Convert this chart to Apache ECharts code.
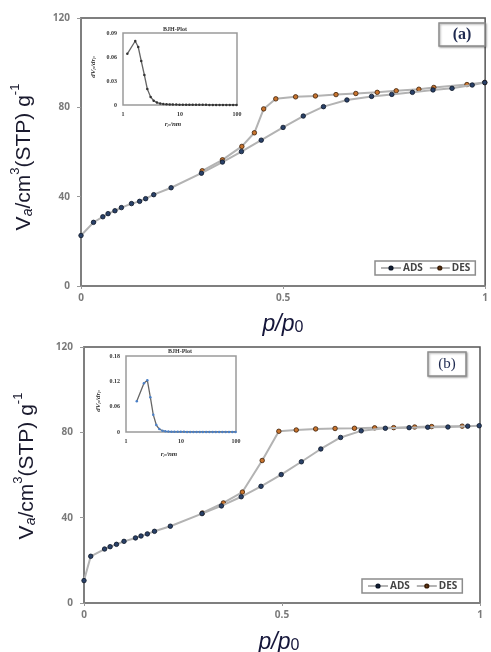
<!DOCTYPE html>
<html><head><meta charset="utf-8">
<script src="https://cdn.jsdelivr.net/npm/echarts@6/dist/echarts.min.js"></script>
<style>html,body{margin:0;padding:0;background:#fff}#c{width:491px;height:652px}</style>
</head><body><div id="c"></div>
<script>
// ---------- data ----------
const mainXTicks = [0, 0.5, 1];
const mainYTicks = [0, 40, 80, 120];

// Panel (a) isotherm
const adsA_p = [0.0, 0.031, 0.054, 0.067, 0.084, 0.10, 0.125, 0.145, 0.16, 0.18, 0.223, 0.298, 0.35, 0.397, 0.446, 0.50, 0.55, 0.60, 0.658, 0.719, 0.769, 0.82, 0.871, 0.918, 0.968, 0.999];
const adsA_v = [22.6, 28.5, 31.0, 32.4, 33.7, 35.1, 36.9, 37.9, 39.1, 40.9, 44.0, 50.5, 55.5, 60.2, 65.3, 71.0, 76.1, 80.3, 83.3, 84.9, 85.8, 86.7, 87.8, 88.5, 90.0, 91.1];
const desA_p = [0.999, 0.955, 0.873, 0.836, 0.78, 0.733, 0.68, 0.631, 0.58, 0.531, 0.482, 0.452, 0.429, 0.398, 0.35, 0.30];
const desA_v = [91.1, 90.2, 88.9, 88.1, 87.4, 86.7, 86.2, 85.7, 85.1, 84.7, 83.8, 79.3, 68.6, 62.5, 56.5, 51.6];

// Panel (b) isotherm
const adsB_p = [0.0, 0.017, 0.052, 0.066, 0.082, 0.101, 0.13, 0.144, 0.16, 0.178, 0.218, 0.298, 0.347, 0.397, 0.447, 0.498, 0.549, 0.598, 0.648, 0.70, 0.761, 0.821, 0.868, 0.919, 0.969, 0.998];
const adsB_v = [10.5, 21.9, 25.3, 26.4, 27.5, 28.9, 30.5, 31.4, 32.4, 33.6, 36.0, 41.9, 45.5, 49.8, 54.7, 60.2, 66.2, 72.2, 77.6, 80.7, 81.9, 82.2, 82.4, 82.5, 82.9, 83.1];
const desB_p = [0.955, 0.878, 0.835, 0.782, 0.734, 0.683, 0.634, 0.585, 0.536, 0.492, 0.45, 0.40, 0.352, 0.299];
const desB_v = [82.9, 82.7, 82.5, 82.2, 82.1, 81.9, 81.8, 81.6, 81.1, 80.5, 66.8, 52.0, 46.9, 42.2];

// BJH insets
const insetXTicks = [1, 10, 100];
const bjhA_r = [1.19, 1.64, 1.85, 2.09, 2.37, 2.67, 3.05, 3.45, 3.94, 4.5, 5.1, 5.8, 6.6, 7.5, 8.6, 9.8, 11.2, 12.8, 14.6, 16.7, 19.1, 21.8, 25, 28.6, 32.8, 37.6, 43, 49.4, 56.6, 65, 74.6, 85.6, 98];
const bjhA_v = [0.064, 0.080, 0.0725, 0.055, 0.0375, 0.020, 0.010, 0.0054, 0.003, 0.0018, 0.0012, 0.0009, 0.0007, 0.0006, 0.0005, 0.0004, 0.0004, 0.0003, 0.0003, 0.0003, 0.0002, 0.0002, 0.0002, 0.0002, 0.0001, 0.0001, 0.0001, 0.0001, 0.0001, 0.0001, 0.0001, 0.0001, 0.0001];
const bjhA_yTicks = [0, 0.03, 0.06, 0.09];
const bjhB_r = [1.57, 2.12, 2.44, 2.77, 3.13, 3.56, 4.03, 4.6, 5.2, 5.9, 6.7, 7.6, 8.7, 9.9, 11.3, 12.9, 14.7, 16.8, 19.2, 21.9, 25, 28.6, 32.8, 37.6, 43, 49.4, 56.6, 65, 74.6, 85.6, 98];
const bjhB_v = [0.073, 0.1155, 0.1226, 0.0825, 0.041, 0.0165, 0.007, 0.003, 0.0015, 0.0009, 0.0006, 0.0005, 0.0004, 0.0003, 0.0003, 0.0002, 0.0002, 0.0002, 0.0002, 0.0001, 0.0001, 0.0001, 0.0001, 0.0001, 0.0001, 0.0001, 0.0001, 0.0001, 0.0001, 0.0001, 0.0001];
const bjhB_yTicks = [0, 0.06, 0.12, 0.18];

// ---------- build ----------
const zip = (xs, ys) => xs.map((x, i) => [x, ys[i]]);
const chart = echarts.init(document.getElementById('c'), null, {renderer: 'canvas'});

const LINE = '#b3b3b3';
const adsItem = {color: '#2a4168', borderColor: '#0b1526', borderWidth: 0.8};
const desItem = {color: '#c8742e', borderColor: '#3b1e08', borderWidth: 0.8};

function mainX(gi) {
  return {
    gridIndex: gi, type: 'value', min: mainXTicks[0], max: mainXTicks[mainXTicks.length - 1], interval: 0.5,
    axisLine: {show: true, lineStyle: {color: '#7f7f7f', width: 2}},
    axisTick: {show: true, length: 3, lineStyle: {color: '#999'}},
    axisLabel: {fontSize: 10, fontWeight: 'bold', color: '#7a7a7a', fontFamily: 'Open Sans', margin: 7},
    splitLine: {show: false}
  };
}
function mainY(gi) {
  return {
    gridIndex: gi, type: 'value', min: mainYTicks[0], max: mainYTicks[mainYTicks.length - 1], interval: 40,
    axisLine: {show: true, lineStyle: {color: '#7f7f7f', width: 2}},
    axisTick: {show: true, length: 4, lineStyle: {color: '#999'}},
    axisLabel: {fontSize: 10, fontWeight: 'bold', color: '#7a7a7a', fontFamily: 'Open Sans', margin: 11},
    splitLine: {show: false}
  };
}
function insetX(gi) {
  return {
    gridIndex: gi, type: 'log', logBase: 10, min: insetXTicks[0], max: insetXTicks[insetXTicks.length - 1],
    axisLine: {show: false}, axisTick: {show: false},
    axisLabel: {fontSize: 6, fontWeight: 'bold', color: '#333', fontFamily: 'Liberation Serif', margin: 6},
    splitLine: {show: false}, minorTick: {show: false}
  };
}
function insetY(gi, ticks) {
  return {
    gridIndex: gi, type: 'value', min: ticks[0], max: ticks[ticks.length - 1], interval: ticks[1] - ticks[0],
    axisLine: {show: false}, axisTick: {show: false},
    axisLabel: {fontSize: 6, fontWeight: 'bold', color: '#333', fontFamily: 'Liberation Serif', margin: 6},
    splitLine: {show: false}
  };
}

function yTitle(x, y) {
  return {
    type: 'text', x: x, y: y, rotation: Math.PI / 2, z: 100,
    style: {
      text: '{n|V}{s|a}{n|/cm}{p|3}{n|(STP) g}{p|-1}',
      align: 'center', verticalAlign: 'middle',
      rich: {
        n: {fontSize: 21, fontFamily: 'Liberation Sans', fill: '#1a1a2e', lineHeight: 26, verticalAlign: 'bottom'},
        s: {fontSize: 14, fontFamily: 'Liberation Sans', fontStyle: 'italic', fill: '#1a1a2e', verticalAlign: 'bottom', lineHeight: 26},
        p: {fontSize: 13, fontFamily: 'Liberation Sans', fill: '#1a1a2e', verticalAlign: 'top', lineHeight: 26}
      }
    }
  };
}
function xTitle(x, y) {
  return {
    type: 'text', x: x, y: y, z: 100,
    style: {
      text: '{i|p}{i|/}{i|p}{s|0}',
      align: 'center', verticalAlign: 'middle',
      rich: {
        i: {fontSize: 23, fontFamily: 'Liberation Sans', fontStyle: 'italic', fill: '#15163a', lineHeight: 28, verticalAlign: 'bottom'},
        s: {fontSize: 16, fontFamily: 'Liberation Sans', fill: '#15163a', lineHeight: 28, verticalAlign: 'bottom'}
      }
    }
  };
}
function tagBox(x, y, w, h, label, fs, bold) {
  return {
    type: 'group', z: 100,
    children: [
      {type: 'rect', shape: {x: x, y: y, width: w, height: h},
       style: {fill: '#fff', stroke: '#8c8c8c', lineWidth: 1.5, shadowBlur: 2, shadowColor: 'rgba(0,0,0,0.3)', shadowOffsetX: 1, shadowOffsetY: 1}},
      {type: 'text', x: x + w / 2, y: y + h / 2,
       style: {text: label, align: 'center', verticalAlign: 'middle', font: (bold ? 'bold ' : '') + fs + 'px "Liberation Serif"', fill: '#1f2a50'}}
    ]
  };
}
function smallText(x, y, rich, text, rot) {
  return {type: 'text', x: x, y: y, rotation: rot || 0, z: 100,
    style: {text: text, align: 'center', verticalAlign: 'middle', rich: rich}};
}
const insetRich = {
  n: {fontSize: 7, fontFamily: 'Liberation Serif', fontStyle: 'italic', fontWeight: 'bold', fill: '#333', lineHeight: 9, verticalAlign: 'bottom'},
  s: {fontSize: 5, fontFamily: 'Liberation Serif', fontStyle: 'italic', fill: '#333', lineHeight: 9, verticalAlign: 'bottom'}
};
function legendAt(left, top) {
  return {left: left, top: top, orient: 'horizontal', itemWidth: 20, itemHeight: 4, itemGap: 6, padding: [2, 5],
    borderColor: '#8c8c8c', borderWidth: 1.5, backgroundColor: '#fff',
    textStyle: {fontSize: 10, fontWeight: 'bold', color: '#444', fontFamily: 'Open Sans', padding: [0, 0, 0, -3]},
    data: ['ADS', 'DES']};
}

const option = {
  animation: false,
  backgroundColor: '#fff',
  grid: [
    {left: 81, top: 18, width: 409, height: 268, show: true, borderColor: '#555', borderWidth: 1.5},
    {left: 123, top: 33, width: 114, height: 72, show: true, borderColor: '#9a9a9a', borderWidth: 1.5, backgroundColor: '#fff', z: 5},
    {left: 84, top: 347, width: 396, height: 256, show: true, borderColor: '#555', borderWidth: 1.5},
    {left: 126, top: 356, width: 110, height: 76, show: true, borderColor: '#9a9a9a', borderWidth: 1.5, backgroundColor: '#fff', z: 5}
  ],
  xAxis: [mainX(0), insetX(1), mainX(2), insetX(3)],
  yAxis: [mainY(0), insetY(1, bjhA_yTicks), mainY(2), insetY(3, bjhB_yTicks)],
  legend: [legendAt(375, 261), legendAt(362, 579)],
  series: [
    {name: 'ADS', type: 'line', xAxisIndex: 0, yAxisIndex: 0, data: zip(adsA_p, adsA_v), symbol: 'circle', symbolSize: 4.5,
     lineStyle: {color: LINE, width: 2}, itemStyle: adsItem, z: 3},
    {name: 'DES', type: 'line', xAxisIndex: 0, yAxisIndex: 0, data: zip(desA_p, desA_v), symbol: 'circle', symbolSize: 4.5,
     lineStyle: {color: LINE, width: 2}, itemStyle: desItem, z: 2},
    {name: 'ADS', type: 'line', xAxisIndex: 2, yAxisIndex: 2, data: zip(adsB_p, adsB_v), symbol: 'circle', symbolSize: 4.5,
     lineStyle: {color: LINE, width: 2}, itemStyle: adsItem, z: 3},
    {name: 'DES', type: 'line', xAxisIndex: 2, yAxisIndex: 2, data: zip(desB_p, desB_v), symbol: 'circle', symbolSize: 4.5,
     lineStyle: {color: LINE, width: 2}, itemStyle: desItem, z: 2},
    {name: 'BJH-a', type: 'line', xAxisIndex: 1, yAxisIndex: 1, data: zip(bjhA_r, bjhA_v), symbol: 'circle', symbolSize: 2.5,
     lineStyle: {color: '#666', width: 1.3}, itemStyle: {color: '#333'}, z: 10},
    {name: 'BJH-b', type: 'line', xAxisIndex: 3, yAxisIndex: 3, data: zip(bjhB_r, bjhB_v), symbol: 'circle', symbolSize: 2.5,
     lineStyle: {color: '#666', width: 1.3}, itemStyle: {color: '#4a80c8'}, z: 10}
  ],
  graphic: [
    yTitle(22, 157),
    yTitle(25, 466),
    xTitle(283, 322),
    xTitle(279, 640),
    tagBox(439, 23, 46, 23, '(a)', 16, true),
    tagBox(428, 352, 38, 24, '(b)', 15, false),
    {type: 'text', x: 175, y: 29, z: 100, style: {text: 'BJH-Plot', align: 'center', verticalAlign: 'middle', font: 'bold 6px "Liberation Serif"', fill: '#333'}},
    {type: 'text', x: 180, y: 351.5, z: 100, style: {text: 'BJH-Plot', align: 'center', verticalAlign: 'middle', font: 'bold 6px "Liberation Serif"', fill: '#333'}},
    smallText(173, 123, insetRich, '{n|r}{s|p}{n|/nm}'),
    smallText(169, 453, insetRich, '{n|r}{s|p}{n|/nm}'),
    smallText(92, 67, insetRich, '{n|dV}{s|p}{n|/dr}{s|p}', Math.PI / 2),
    smallText(97, 401, insetRich, '{n|dV}{s|p}{n|/dr}{s|p}', Math.PI / 2)
  ]
};
chart.setOption(option);
</script>
</body></html>
